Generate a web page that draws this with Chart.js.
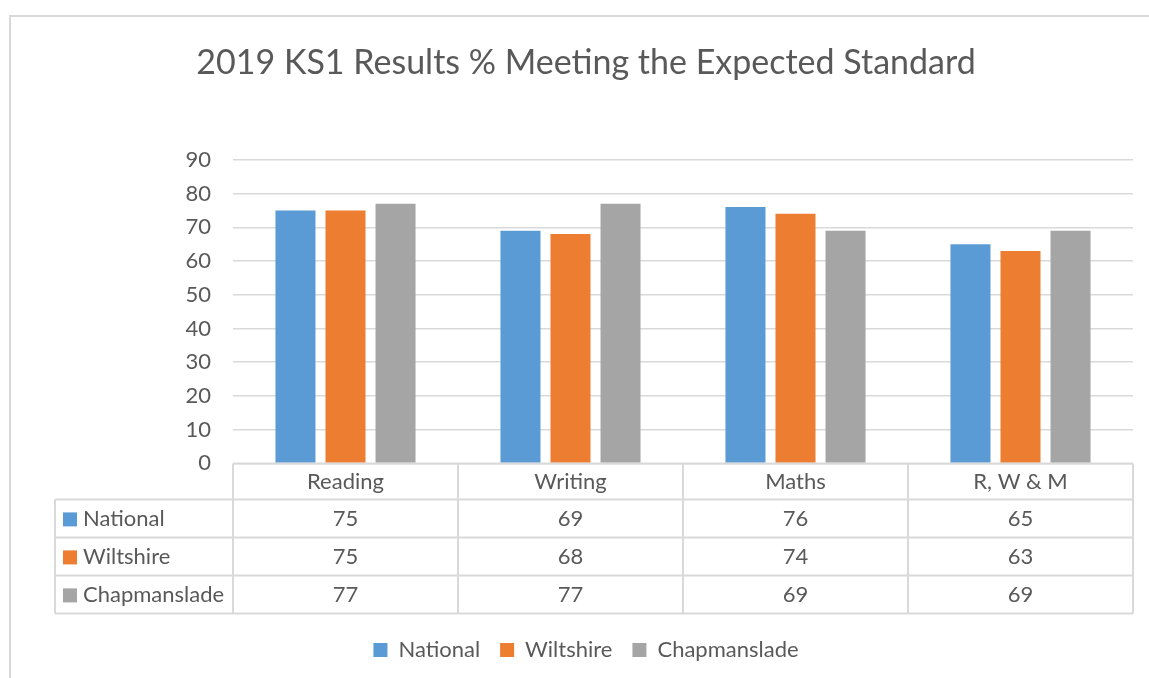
<!DOCTYPE html>
<html>
<head>
<meta charset="utf-8">
<script src="https://cdn.jsdelivr.net/npm/chart.js@4.4.1/dist/chart.umd.min.js"></script>
<style>
  html, body { margin: 0; padding: 0; background: #fff; }
  #wrap { width: 1149px; height: 678px; position: relative; }
</style>
</head>
<body>
<div id="wrap"><canvas id="grafico" width="1149" height="678"></canvas></div>
<script>
const categorias = ["Reading", "Writing", "Maths", "R, W & M"];
const series = ["National", "Wiltshire", "Chapmanslade"];
const national = [75, 69, 76, 65];
const wiltshire = [75, 68, 74, 63];
const chapmanslade = [77, 77, 69, 69];
const cores = ["#5B9BD5", "#ED7D31", "#A5A5A5"];
const yTicks = [0, 10, 20, 30, 40, 50, 60, 70, 80, 90];

const fonte = "Lato";
const corTexto = "#595959";
const corLinha = "#d9d9d9";

// moldura do gráfico
const moldura = {
  id: "moldura",
  beforeDraw(chart) {
    const ctx = chart.ctx;
    ctx.save();
    ctx.fillStyle = "#fff";
    ctx.fillRect(0, 0, chart.width, chart.height);
    ctx.strokeStyle = corLinha;
    ctx.lineWidth = 2;
    ctx.strokeRect(10, 16, chart.width + 20, chart.height + 20);
    ctx.restore();
  }
};

// tabela de dados abaixo do eixo x
const tabela = {
  id: "tabela",
  afterDraw(chart) {
    const ctx = chart.ctx;
    const area = chart.chartArea;
    const x = chart.scales.x;
    const larg = (area.right - area.left) / categorias.length;
    const topo = area.bottom;
    const alturaCab = 36;
    const alturaLinha = 38;
    const esq = 55;
    const linhas = [topo, topo + alturaCab];
    for (let i = 1; i <= series.length; i++) linhas.push(topo + alturaCab + i * alturaLinha);
    const base = linhas[linhas.length - 1];

    ctx.save();
    ctx.strokeStyle = corLinha;
    ctx.lineWidth = 2;
    ctx.beginPath();
    ctx.moveTo(area.left, topo); ctx.lineTo(area.right, topo);
    linhas.slice(1).forEach(y => { ctx.moveTo(esq, y); ctx.lineTo(area.right, y); });
    ctx.moveTo(esq, linhas[1]); ctx.lineTo(esq, base);
    for (let i = 0; i <= categorias.length; i++) {
      const xx = area.left + i * larg;
      ctx.moveTo(xx, topo); ctx.lineTo(xx, base);
    }
    ctx.stroke();

    ctx.font = `22px ${fonte}`;
    ctx.fillStyle = corTexto;
    ctx.textBaseline = "middle";
    ctx.textAlign = "center";
    categorias.forEach((c, i) => {
      ctx.fillText(c, x.getPixelForValue(i), topo + alturaCab / 2 + 1);
    });

    chart.data.datasets.forEach((ds, s) => {
      const yc = linhas[s + 1] + alturaLinha / 2 + 1;
      ctx.fillStyle = ds.backgroundColor;
      ctx.fillRect(63, yc - 7, 14, 14);
      ctx.fillStyle = corTexto;
      ctx.textAlign = "left";
      ctx.fillText(ds.label, 83, yc);
      ctx.textAlign = "center";
      ds.data.forEach((v, i) => ctx.fillText(String(v), x.getPixelForValue(i), yc));
    });
    ctx.restore();
  }
};

const ctx = document.getElementById("grafico").getContext("2d");
new Chart(ctx, {
  type: "bar",
  data: {
    labels: categorias,
    datasets: [
      { label: series[0], data: national, backgroundColor: cores[0] },
      { label: series[1], data: wiltshire, backgroundColor: cores[1] },
      { label: series[2], data: chapmanslade, backgroundColor: cores[2] }
    ]
  },
  options: {
    responsive: false,
    animation: false,
    devicePixelRatio: 1,
    layout: { padding: { left: 39, right: 16, top: 0, bottom: 7 } },
    datasets: { bar: { categoryPercentage: 0.667, barPercentage: 0.8 } },
    plugins: {
      title: {
        display: true,
        text: "2019 KS1 Results % Meeting the Expected Standard",
        color: corTexto,
        font: { family: fonte, size: 34, weight: "normal" },
        padding: { top: 43, bottom: 76 }
      },
      legend: {
        position: "bottom",
        labels: {
          color: corTexto,
          font: { family: fonte, size: 22 },
          boxWidth: 14,
          boxHeight: 14,
          padding: 20
        }
      },
      tooltip: { enabled: false }
    },
    scales: {
      x: {
        ticks: { display: false },
        grid: { display: false },
        border: { display: false },
        afterFit: s => { s.height = 155.6; }
      },
      y: {
        min: 0,
        max: 90,
        afterBuildTicks: s => { s.ticks = yTicks.map(v => ({ value: v })); },
        ticks: {
          color: corTexto,
          font: { family: fonte, size: 22 },
          padding: 22
        },
        grid: { color: corLinha, lineWidth: 1.5, drawTicks: false },
        border: { display: false },
        afterFit: s => { s.width = 194; }
      }
    }
  },
  plugins: [moldura, tabela]
});
</script>
</body>
</html>
